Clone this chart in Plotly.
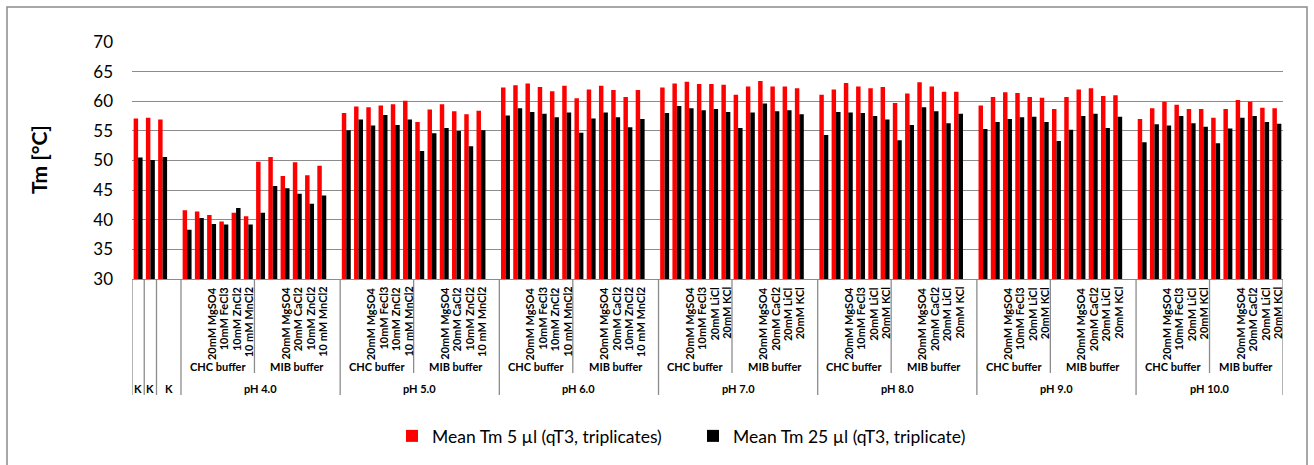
import plotly.graph_objects as go

# ---------------- data ----------------
control_labels = ["K", "K", "K"]
control_red = [57.1, 57.2, 56.9]
control_black = [50.5, 50.1, 50.6]

ph_labels = ["pH 4.0", "pH 5.0", "pH 6.0", "pH 7.0", "pH 8.0", "pH 9.0", "pH 10.0"]
buffer_labels = ["CHC buffer", "MIB buffer"]

salts_chc_acid = ["", "", "20mM MgSO4", "10mM FeCl3", "10mM ZnCl2", "10 mM MnCl2"]
salts_mib_acid = ["", "", "20mM MgSO4", "20mM CaCl2", "10mM ZnCl2", "10 mM MnCl2"]
salts_chc_base = ["", "", "20mM MgSO4", "10mM FeCl3", "20mM LiCl", "20mM KCl"]
salts_mib_base = ["", "", "20mM MgSO4", "20mM CaCl2", "20mM LiCl", "20mM KCl"]

red_ph4 = [41.6, 41.4, 40.8, 39.7, 41.2, 40.6, 49.8, 50.6, 47.4, 49.7, 47.5, 49.1]
black_ph4 = [38.3, 40.3, 39.3, 39.2, 42.0, 39.2, 41.2, 45.7, 45.3, 44.4, 42.7, 44.1]
red_ph5 = [58.0, 59.1, 59.0, 59.3, 59.5, 60.1, 56.5, 58.6, 59.5, 58.3, 57.8, 58.4]
black_ph5 = [55.1, 56.9, 55.9, 57.7, 56.0, 56.9, 51.6, 54.6, 55.5, 55.0, 52.4, 55.1]
red_ph6 = [62.3, 62.7, 63.0, 62.4, 61.7, 62.6, 60.5, 62.0, 62.6, 61.9, 60.7, 61.9]
black_ph6 = [57.6, 58.8, 58.2, 57.9, 57.3, 58.1, 54.7, 57.1, 58.1, 57.3, 55.6, 57.0]
red_ph7 = [62.3, 63.0, 63.3, 62.9, 62.9, 62.8, 61.1, 62.5, 63.4, 62.5, 62.5, 62.2]
black_ph7 = [58.0, 59.2, 58.8, 58.5, 58.7, 58.2, 55.5, 58.1, 59.6, 58.3, 58.5, 57.8]
red_ph8 = [61.1, 62.0, 63.1, 62.5, 62.2, 62.4, 59.7, 61.3, 63.2, 62.5, 61.6, 61.6]
black_ph8 = [54.3, 58.2, 58.1, 58.0, 57.5, 56.9, 53.4, 56.0, 59.0, 58.3, 56.3, 57.9]
red_ph9 = [59.3, 60.7, 61.5, 61.4, 60.7, 60.6, 58.7, 60.7, 62.0, 62.2, 60.9, 61.0]
black_ph9 = [55.3, 56.5, 57.0, 57.3, 57.4, 56.5, 53.3, 55.2, 57.5, 57.9, 55.5, 57.4]
red_ph10 = [57.0, 58.8, 59.9, 59.4, 58.7, 58.7, 57.2, 58.7, 60.2, 59.9, 58.9, 58.8]
black_ph10 = [53.1, 56.1, 55.9, 57.5, 56.3, 55.7, 52.9, 55.4, 57.2, 57.5, 56.5, 56.2]

red_groups = [red_ph4, red_ph5, red_ph6, red_ph7, red_ph8, red_ph9, red_ph10]
black_groups = [black_ph4, black_ph5, black_ph6, black_ph7, black_ph8, black_ph9, black_ph10]
salt_sets = [(salts_chc_acid, salts_mib_acid)] * 3 + [(salts_chc_base, salts_mib_base)] * 4

legend_red = "Mean Tm 5 µl (qT3, triplicates)"
legend_black = "Mean Tm 25 µl (qT3, triplicate)"

# ---------------- layout of categories ----------------
PLOT_L, PLOT_T, PLOT_W, PLOT_H = 132, 42, 1151, 237
def py(ypix):
    return (PLOT_T + PLOT_H - ypix) / PLOT_H
def px(xpix):
    return (xpix - PLOT_L) / PLOT_W

xs, reds, blacks = [], [], []
salt_annots = []
buffer_annots = []
outer_annots = []
full_lines = []
buffer_lines = []

pos = 0
full_lines.append(pos - 0.5)
for i, lab in enumerate(control_labels):
    xs.append(pos); reds.append(control_red[i]); blacks.append(control_black[i])
    span = 2 if i == len(control_labels) - 1 else 1
    outer_annots.append((pos + (span - 1) / 2, lab))
    pos += span
    full_lines.append(pos - 0.5)

for g, ph in enumerate(ph_labels):
    start = pos
    chc, mib = salt_sets[g]
    vals_r, vals_b = red_groups[g], black_groups[g]
    k = 0
    for b, salts in enumerate([chc, mib]):
        bstart = pos
        for s in salts:
            xs.append(pos); reds.append(vals_r[k]); blacks.append(vals_b[k])
            if s:
                salt_annots.append((pos, s))
            pos += 1
            k += 1
        if b == 1 and g < len(ph_labels) - 1:
            pos += 1  # empty slot at group end
        buffer_annots.append(((bstart + pos - 1) / 2, buffer_labels[b]))
        if b == 0:
            buffer_lines.append(pos - 0.5)
    outer_annots.append(((start + pos - 1) / 2, ph))
    full_lines.append(pos - 0.5)

n_slots = pos

# ---------------- figure ----------------
FONT = "Lato, 'Open Sans', Arial, sans-serif"
fig = go.Figure()
fig.add_trace(go.Bar(x=xs, y=reds, name=legend_red, marker=dict(color="#FF0000", line=dict(width=0))))
fig.add_trace(go.Bar(x=xs, y=blacks, name=legend_black, marker=dict(color="#000000", line=dict(width=0))))

annotations = []
for x, t in salt_annots:
    annotations.append(dict(x=x, y=py(285), xref="x", yref="paper", text=f"<b>{t}</b>",
                            textangle=-90, showarrow=False, xanchor="center", yanchor="top",
                            font=dict(size=11, color="#000", family=FONT)))
for x, t in buffer_annots:
    annotations.append(dict(x=x, y=py(366), xref="x", yref="paper", text=f"<b>{t}</b>",
                            showarrow=False, xanchor="center", yanchor="middle",
                            font=dict(size=11, color="#000", family=FONT)))
for x, t in outer_annots:
    annotations.append(dict(x=x, y=py(388), xref="x", yref="paper", text=f"<b>{t}</b>",
                            showarrow=False, xanchor="center", yanchor="middle",
                            font=dict(size=11, color="#000", family=FONT)))
annotations.append(dict(x=px(38), y=py(160), xref="paper", yref="paper", text="<b>Tm [°C]</b>",
                        textangle=-90, showarrow=False, xanchor="center", yanchor="middle",
                        font=dict(size=21, color="#000", family=FONT)))

shapes = []
for x in full_lines:
    shapes.append(dict(type="line", xref="x", yref="paper", x0=x, x1=x, y0=0, y1=py(395),
                       line=dict(color="#8c8c8c", width=1.3)))
for x in buffer_lines:
    shapes.append(dict(type="line", xref="x", yref="paper", x0=x, x1=x, y0=0, y1=py(373),
                       line=dict(color="#8c8c8c", width=1.3)))
shapes.append(dict(type="rect", xref="paper", yref="paper", x0=px(7), x1=px(1307), y0=py(7), y1=py(480),
                   line=dict(color="#8a8a8a", width=1.5), fillcolor="rgba(0,0,0,0)", layer="below"))

fig.update_layout(
    width=1314, height=465,
    margin=dict(l=PLOT_L, r=1314 - PLOT_L - PLOT_W, t=PLOT_T, b=465 - PLOT_T - PLOT_H, autoexpand=False),
    paper_bgcolor="white", plot_bgcolor="white",
    barmode="group", bargap=0.27, bargroupgap=0,
    font=dict(family=FONT, color="#000"),
    showlegend=True,
    legend=dict(orientation="h", x=px(392), xanchor="left", y=py(436), yanchor="middle",
                font=dict(size=17.5, family=FONT, color="#000"), bgcolor="rgba(0,0,0,0)",
                itemwidth=30, traceorder="normal", entrywidth=256, entrywidthmode="pixels"),
    annotations=annotations, shapes=shapes,
)
fig.update_xaxes(range=[-0.5, n_slots - 0.5], showticklabels=False, showgrid=False, zeroline=False,
                 showline=True, linecolor="#8c8c8c", linewidth=1.3, ticks="", fixedrange=True)
fig.update_yaxes(range=[30, 70], dtick=5, tick0=30, showgrid=True, gridcolor="#8c8c8c", gridwidth=1.3,
                 zeroline=False, showline=False, ticks="", ticklabelstandoff=18,
                 tickfont=dict(size=17, color="#000", family=FONT), fixedrange=True)

fig.write_html("out.html", config={"displayModeBar": False},
               post_script="document.body.style.margin='0';")
